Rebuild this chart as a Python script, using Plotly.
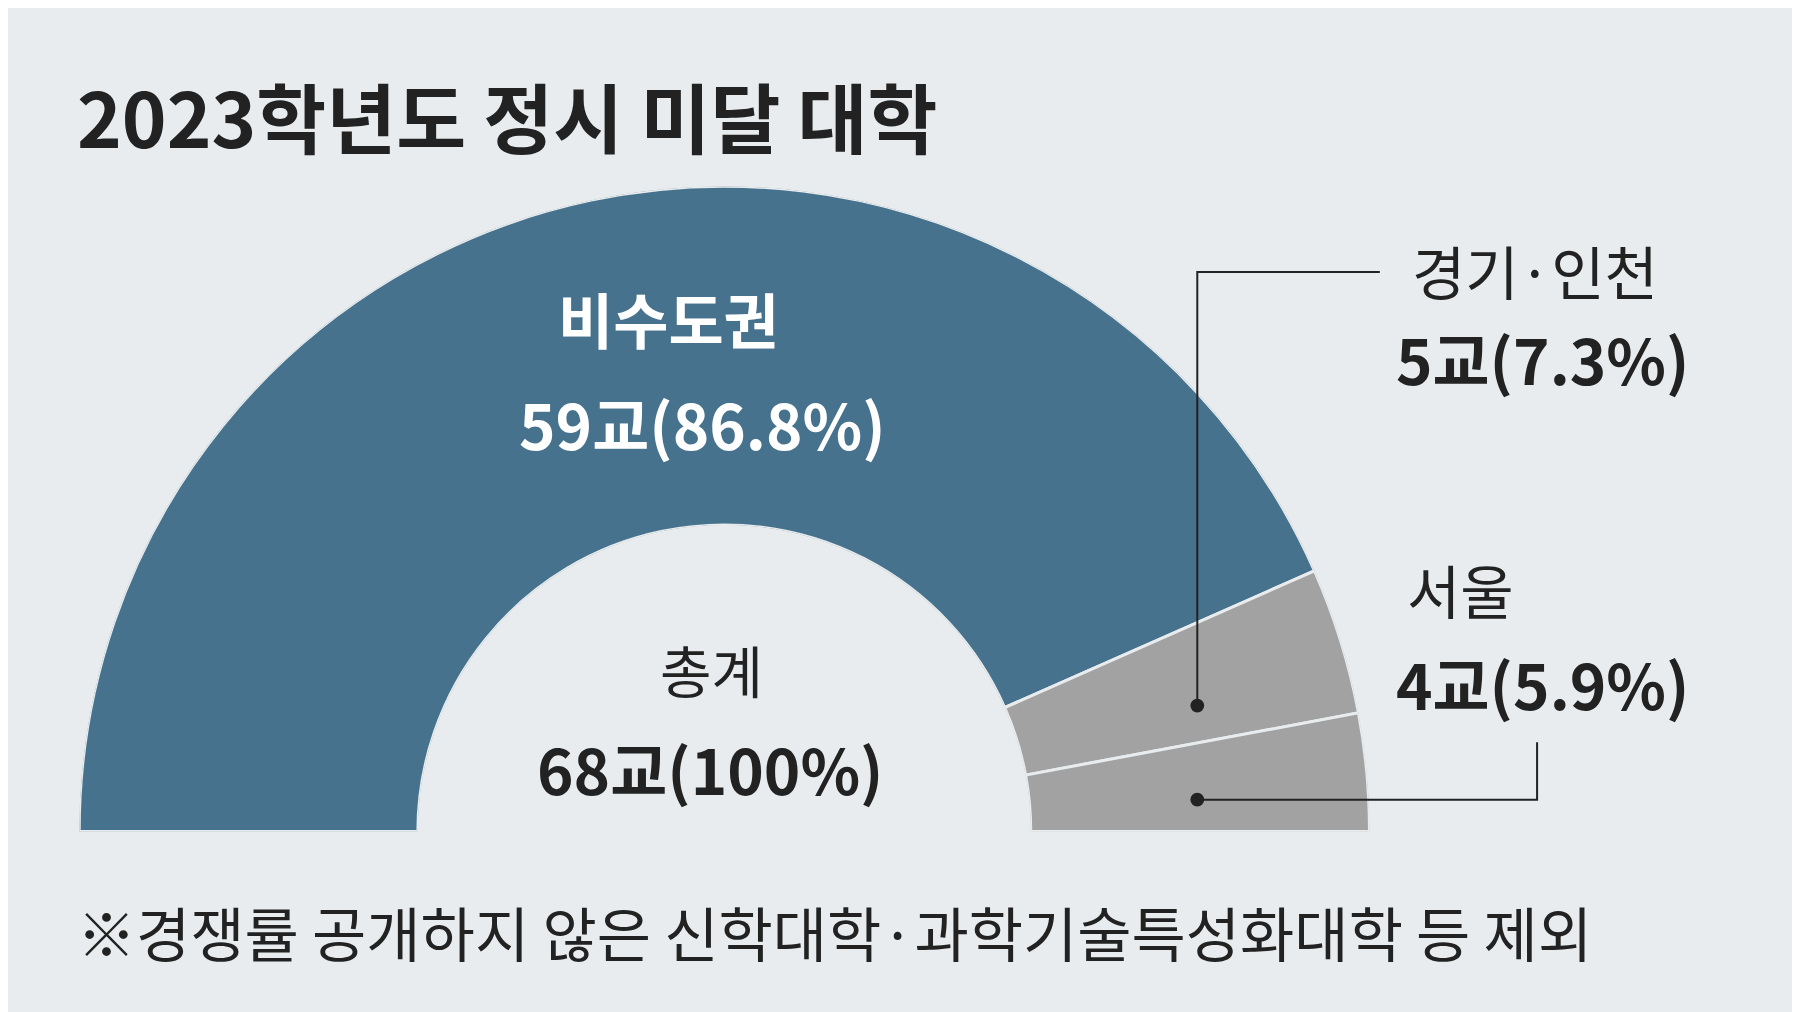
import plotly.graph_objects as go

categories = ["비수도권", "경기·인천", "서울"]
counts = [59, 5, 4]
total = 68
colors = ["#46728d", "#a2a2a2", "#a2a2a2"]

W, H = 1568, 882
def px(x): return x / W
def py(y): return 1 - y / H

widths, centers, acc = [], [], 0
for v in counts:
    w = 180 * v / total
    widths.append(w); centers.append(acc + w / 2); acc += w

fig = go.Figure(go.Barpolar(
    r=[1] * len(counts), theta=centers, width=widths, base=0,
    marker=dict(color=colors, line=dict(color="#e8ecee", width=3)),
    hoverinfo="skip", showlegend=False))

bg = "#e8ecee"
fig.update_layout(
    width=1800, height=1012, margin=dict(l=0, r=0, t=0, b=0),
    paper_bgcolor=bg, plot_bgcolor=bg,
    font=dict(family="Noto Sans CJK KR", color="#222"),
    polar=dict(
        domain=dict(x=[px(62), px(1186)], y=[py(727), py(146)]),
        sector=[0, 180], hole=0.475, bgcolor=bg,
        angularaxis=dict(direction="clockwise", rotation=180, visible=False),
        radialaxis=dict(range=[0, 1], visible=False)))

def ann(text, x, y, size, color="#222", bold=False, xanchor="center"):
    t = f"<b>{text}</b>" if bold else text
    fig.add_annotation(text=t, x=px(x), y=py(y), xref="paper", yref="paper",
                       showarrow=False, xanchor=xanchor, yanchor="middle",
                       font=dict(size=size, color=color))

ann("2023학년도 정시 미달 대학", 58, 93, 76, bold=True, xanchor="left")
ann(categories[0], 575, 270, 60, "white", True)
ann(f"{counts[0]}교(86.8%)", 605, 362, 62, "white", True)
ann("총계", 613, 576, 56)
ann(f"{total}교(100%)", 612, 662, 62, bold=True)
ann(categories[1], 1330, 228, 58)
ann(f"{counts[1]}교(7.3%)", 1337, 305, 62, bold=True)
ann(categories[2], 1265, 506, 58)
ann(f"{counts[2]}교(5.9%)", 1337, 588, 62, bold=True)
ann("※경쟁률 공개하지 않은 신학대학·과학기술특성화대학 등 제외", 58, 805, 59, xanchor="left")

lc = dict(color="#222", width=2)
fig.add_shape(type="path", xref="paper", yref="paper", line=lc,
              path=f"M {px(1036)} {py(608)} L {px(1036)} {py(230)} L {px(1195)} {py(230)}")
fig.add_shape(type="path", xref="paper", yref="paper", line=lc,
              path=f"M {px(1036)} {py(690)} L {px(1332)} {py(690)} L {px(1332)} {py(640)}")
for y in (608, 690):
    fig.add_shape(type="circle", xref="paper", yref="paper",
                  x0=px(1030), x1=px(1042), y0=py(y + 6), y1=py(y - 6),
                  fillcolor="#222", line=dict(width=0))

fig.write_html("out.html")
